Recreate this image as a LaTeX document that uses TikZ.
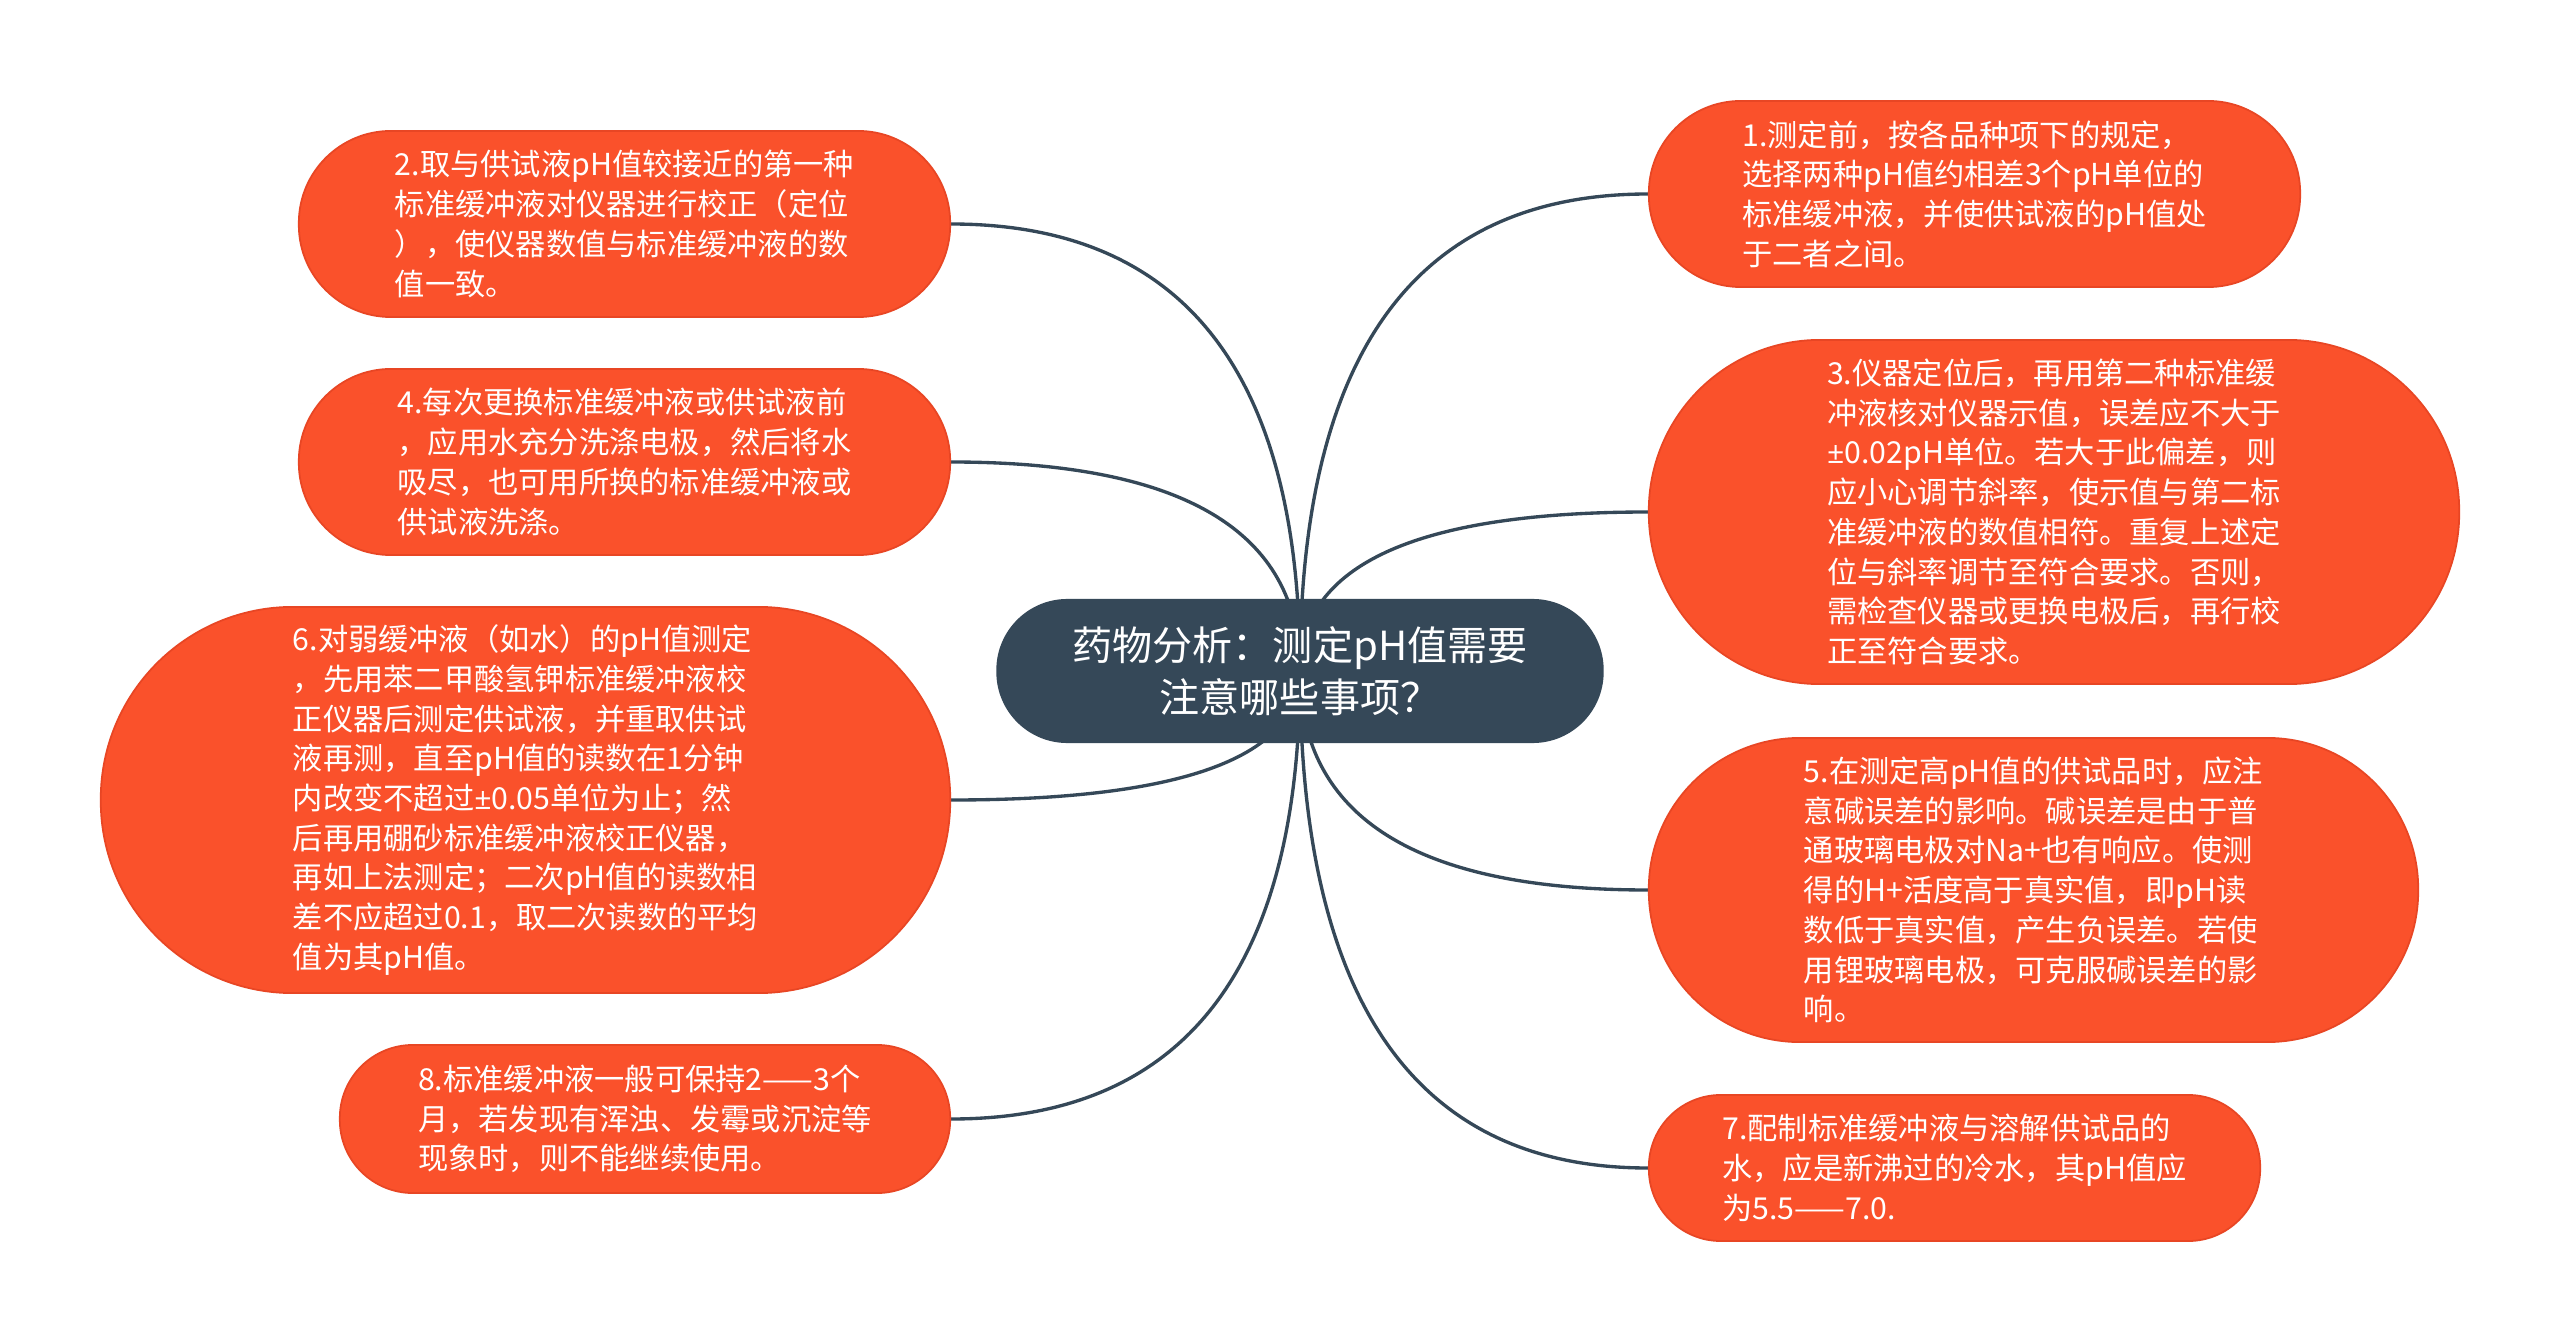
\documentclass[tikz,border=0pt]{standalone}
\usepackage{fontspec}
\setmainfont{Noto Sans CJK SC}
\newfontfamily\latinf{Open Sans}
\usetikzlibrary{calc}
\definecolor{leafc}{RGB}{250,81,43}
\definecolor{leafedge}{RGB}{232,70,36}
\definecolor{rootc}{RGB}{53,72,88}
\pgfdeclarelayer{bg}
\pgfsetlayers{bg,main}
\newcommand\mmlink[2]{\draw[conn] (#1.center) .. controls ($(#1.center)!0.6667!(#1.center|-#2)$) and ($(#2)!0.6667!(#1.center|-#2)$) .. (#2);}
\newcommand\pmsign{{\latinf ±}}
\begin{document}
\begin{tikzpicture}[x=0.01cm,y=-0.01cm,
  leaf/.style={fill=leafc,draw=leafedge,line width=0.5pt,text=white,align=left,inner sep=0pt,
    font=\fontsize{8.6}{11.3}\selectfont},
  rootbox/.style={fill=rootc,text=white,align=center,inner sep=0pt,
    font=\fontsize{11.4}{14.8}\selectfont},
  conn/.style={draw=rootc,line width=0.95pt}]
\useasboundingbox (0,0) rectangle (2560,1343);

\node[rootbox,minimum width=6.07cm,minimum height=1.44cm,rounded corners=0.71cm] (c) at (1300,671)
 {药物分析：测定pH值需要\\注意哪些事项？};

\node[leaf,minimum width=6.51cm,minimum height=1.86cm,rounded corners=0.92cm] (n2) at (624.5,224)
 {2.取与供试液pH值较接近的第一种\\标准缓冲液对仪器进行校正（定位\\），使仪器数值与标准缓冲液的数\\值一致。};

\node[leaf,minimum width=6.51cm,minimum height=1.86cm,rounded corners=0.92cm] (n4) at (624.5,462)
 {4.每次更换标准缓冲液或供试液前\\，应用水充分洗涤电极，然后将水\\吸尽，也可用所换的标准缓冲液或\\供试液洗涤。};

\node[leaf,minimum width=8.49cm,minimum height=3.86cm,rounded corners=1.92cm] (n6) at (525.5,800)
 {6.对弱缓冲液（如水）的pH值测定\\，先用苯二甲酸氢钾标准缓冲液校\\正仪器后测定供试液，并重取供试\\液再测，直至pH值的读数在1分钟\\内改变不超过\pmsign0.05单位为止；然\\后再用硼砂标准缓冲液校正仪器，\\再如上法测定；二次pH值的读数相\\差不应超过0.1，取二次读数的平均\\值为其pH值。};

\node[leaf,minimum width=6.10cm,minimum height=1.48cm,rounded corners=0.73cm] (n8) at (645,1119)
 {8.标准缓冲液一般可保持2——3个\\月，若发现有浑浊、发霉或沉淀等\\现象时，则不能继续使用。};

\node[leaf,minimum width=6.51cm,minimum height=1.86cm,rounded corners=0.92cm] (n1) at (1974.5,194)
 {1.测定前，按各品种项下的规定，\\选择两种pH值约相差3个pH单位的\\标准缓冲液，并使供试液的pH值处\\于二者之间。};

\node[leaf,minimum width=8.10cm,minimum height=3.44cm,rounded corners=1.71cm] (n3) at (2054,512)
 {3.仪器定位后，再用第二种标准缓\\冲液核对仪器示值，误差应不大于\\\pmsign0.02pH单位。若大于此偏差，则\\应小心调节斜率，使示值与第二标\\准缓冲液的数值相符。重复上述定\\位与斜率调节至符合要求。否则，\\需检查仪器或更换电极后，再行校\\正至符合要求。};

\node[leaf,minimum width=7.69cm,minimum height=3.04cm,rounded corners=1.51cm] (n5) at (2033.5,890)
 {5.在测定高pH值的供试品时，应注\\意碱误差的影响。碱误差是由于普\\通玻璃电极对Na+也有响应。使测\\得的H+活度高于真实值，即pH读\\数低于真实值，产生负误差。若使\\用锂玻璃电极，可克服碱误差的影\\响。};

\node[leaf,minimum width=6.11cm,minimum height=1.46cm,rounded corners=0.72cm] (n7) at (1954.5,1168)
 {7.配制标准缓冲液与溶解供试品的\\水，应是新沸过的冷水，其pH值应\\为5.5——7.0.};

\begin{pgfonlayer}{bg}
\fill[white] (0,0) rectangle (2560,1343);
\mmlink{c}{n2.east}
\mmlink{c}{n4.east}
\mmlink{c}{n6.east}
\mmlink{c}{n8.east}
\mmlink{c}{n1.west}
\mmlink{c}{n3.west}
\mmlink{c}{n5.west}
\mmlink{c}{n7.west}
\end{pgfonlayer}
\end{tikzpicture}
\end{document}
